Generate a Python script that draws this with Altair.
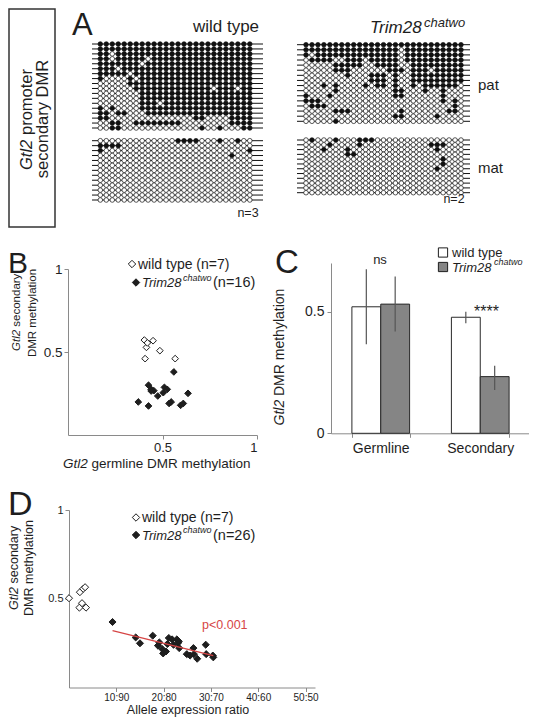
import altair as alt
import pandas as pd

W, H = 521, 709
FONT = "Liberation Sans"
INK = "#1e1e1e"
AXC = "#8a8a8a"
RED = "#d64545"
GRAY = "#858585"

# ---------------- Panel A: methylation states (1 = methylated, 0 = unmethylated)
wt_pat = [
    "11111 11111 11111 11111 11111 1",
    "11111 11111 11111 11111 11111 1",
    "11011 11111 11111 11111 11111 1",
    "11011 11101 11111 11111 11111 1",
    "11111 11011 11111 11111 11111 1",
    "11101 11111 11111 11111 11111 1",
    "11111 01111 11111 11111 11111 1",
    "10000 10111 11111 11111 11111 1",
    "00000 11111 11111 11111 11111 1",
    "00000 01111 11111 11110 11101 1",
    "00000 00111 11111 11111 11111 1",
    "00000 00111 11111 11111 11111 1",
    "00000 00111 01111 11111 11111 1",
    "10100 00111 11111 11111 11111 1",
    "11011 00011 11111 11111 11111 1",
    "11000 00000 00000 01100 00111 1",
    "00110 01111 11110 00000 00111 1",
    "00110 00000 00000 00100 10001 1",
]
wt_mat = [
    "00000 00000 00011 11000 10010 0",
    "11110 00000 00000 00000 00000 0",
    "10000 00000 00000 00000 00000 1",
    "00000 00000 00000 00000 00100 0",
    "00000 00000 00000 00000 00000 0",
    "00000 00000 00000 00000 00000 0",
    "00000 00000 00000 00000 00000 0",
    "00000 00000 00000 00000 00000 0",
    "00000 00000 00000 00000 00000 0",
    "00000 00000 00000 00000 00000 0",
    "00000 00000 00000 00000 00000 0",
    "00000 00000 00000 00000 00000 0",
    "00000 00000 00000 00000 00000 0",
]
tr_pat = [
    "11111 11111 11111 11111 11111 11",
    "11111 11111 11111 10111 11111 11",
    "10111 11111 11111 10111 11111 11",
    "01111 00111 01111 10111 11111 11",
    "00000 11111 00111 10011 11111 11",
    "00000 11100 00001 11011 10111 11",
    "00000 00100 01110 10011 11111 11",
    "00000 00000 01110 10011 11111 11",
    "00010 10000 10110 10010 11111 10",
    "00000 10000 00000 11000 10010 00",
    "10001 00000 00000 11000 00010 00",
    "11100 00000 00000 00000 00010 10",
    "01110 00000 00000 00000 00000 10",
    "00000 11100 00000 01000 00001 10",
    "00000 00000 00000 11000 00100 00",
    "00000 10000 00000 00000 00000 00",
]
tr_mat = [
    "01000 10001 11000 00000 00000 00",
    "00001 00001 00000 00000 01110 00",
    "00010 00100 00000 00000 00100 00",
    "00000 00110 00000 00000 00000 00",
    "00000 00000 00000 00000 00010 00",
    "00000 00000 00000 00000 00010 00",
    "00000 00000 00000 00000 00100 00",
    "00000 00000 00000 00000 00000 00",
    "00000 00000 00000 00000 00000 00",
    "00000 00000 00000 00000 00000 00",
    "00000 00000 00000 00000 00000 00",
    "00000 00000 00000 00000 00000 00",
]

# ---------------- Panel B
b_wt_x = [0.404, 0.45, 0.415, 0.486, 0.408, 0.567, 0.42]
b_wt_y = [0.572, 0.568, 0.528, 0.508, 0.46, 0.46, 0.555]
b_tr_x = [0.56, 0.426, 0.44, 0.454, 0.475, 0.51, 0.525, 0.504, 0.372, 0.426,
          0.546, 0.535, 0.596, 0.61, 0.635, 0.44]
b_tr_y = [0.38, 0.30, 0.275, 0.267, 0.235, 0.287, 0.275, 0.255, 0.199, 0.175,
          0.199, 0.19, 0.179, 0.19, 0.251, 0.265]

# ---------------- Panel C
c_cat = ["Germline", "Germline", "Secondary", "Secondary"]
c_ser = ["wild type", "Trim28", "wild type", "Trim28"]
c_mean = [0.52, 0.531, 0.477, 0.233]
c_lo = [0.366, 0.418, 0.452, 0.178]
c_hi = [0.674, 0.644, 0.50, 0.278]

# ---------------- Panel D
d_wt_x = [0.0, 2.2, 3.6, 2.3, 3.0, 3.4, 2.75]
d_wt_y = [0.503, 0.45, 0.45, 0.537, 0.556, 0.565, 0.475]
d_tr_x = [9.2, 14.1, 15.0, 17.7, 18.8, 19.1, 19.7, 19.9, 20.5, 20.8, 21.1, 21.8, 22.1,
          22.8, 23.1, 23.2, 23.3, 24.9, 25.6, 26.3, 26.4, 27.1, 28.9, 29.0, 30.4, 30.5]
d_tr_y = [0.369, 0.282, 0.249, 0.292, 0.236, 0.254, 0.217, 0.192, 0.203, 0.245, 0.279,
          0.271, 0.241, 0.271, 0.252, 0.26, 0.222, 0.188, 0.18, 0.222, 0.188, 0.162,
          0.241, 0.188, 0.18, 0.17]
d_fit_x = [9.2, 30.5]
d_fit_y = [0.32, 0.179]
d_ticks = [10, 20, 30, 40, 50]

ONE = pd.DataFrame({"k": [0]})


def txt(s, x, y, size, align="left", baseline="middle", angle=None, italic=False, color=INK):
    kw = dict(text=s, font=FONT, fontSize=size, align=align, baseline=baseline, color=color)
    if angle is not None:
        kw["angle"] = angle
    if italic:
        kw["fontStyle"] = "italic"
    return alt.Chart(ONE).mark_text(**kw).encode(x=alt.value(x), y=alt.value(y))


def glyph(x, y, shape, fill, size):
    return alt.Chart(ONE).mark_point(shape=shape, filled=True, fill=fill, stroke=INK,
                                     strokeWidth=1, size=size, opacity=1).encode(
        x=alt.value(x), y=alt.value(y))


def block(rows, xr, yr, line_x):
    clean = [r.replace(" ", "") for r in rows]
    recs = [{"r": i, "c": j, "m": "M" if ch == "1" else "U"}
            for i, row in enumerate(clean) for j, ch in enumerate(row)]
    df = pd.DataFrame(recs)
    nr, nc = len(clean), len(clean[0])
    xs = alt.Scale(domain=[0, nc - 1], range=xr, nice=False, zero=False)
    ys = alt.Scale(domain=[0, nr - 1], range=yr, nice=False, zero=False)
    lines = alt.Chart(pd.DataFrame({"r": list(range(nr))})).mark_rule(
        color="#111", strokeWidth=1).encode(
        y=alt.Y("r:Q", scale=ys, axis=None),
        x=alt.value(line_x[0]), x2=alt.value(line_x[1]))
    dots = alt.Chart(df).mark_point(shape="circle", filled=True, size=21, stroke="#111",
                                    strokeWidth=0.7, opacity=1).encode(
        x=alt.X("c:Q", scale=xs, axis=None),
        y=alt.Y("r:Q", scale=ys, axis=None),
        fill=alt.Fill("m:N", scale=alt.Scale(domain=["U", "M"], range=["white", "#111"]),
                      legend=None))
    return [lines, dots]


def axis(orient, offset, values=None, size=13, fmt=None, expr=None, **extra):
    kw = dict(orient=orient, offset=offset, title=None, grid=False, domainColor=AXC,
              tickColor=AXC, tickSize=4, domainWidth=1, labelFont=FONT, labelFontSize=size,
              labelColor=INK, labelPadding=2)
    if values is not None:
        kw["values"] = values
    if fmt is not None:
        kw["format"] = fmt
    if expr is not None:
        kw["labelExpr"] = expr
    kw.update(extra)
    return alt.Axis(**kw)


def scatter(xs, ys, groups, xscale, yscale, size, xaxis, yaxis):
    df = pd.DataFrame({"x": xs, "y": ys, "g": groups})
    return alt.Chart(df).mark_point(shape="diamond", filled=True, size=size, stroke=INK,
                                    strokeWidth=1, opacity=1).encode(
        x=alt.X("x:Q", scale=xscale, axis=xaxis),
        y=alt.Y("y:Q", scale=yscale, axis=yaxis),
        fill=alt.Fill("g:N", scale=alt.Scale(domain=["wild type", "Trim28"],
                                              range=["white", INK]), legend=None))


layers = []

# ---------- label box
layers.append(alt.Chart(ONE).mark_rect(filled=False, stroke="#333", strokeWidth=1.5).encode(
    x=alt.value(1), x2=alt.value(47), y=alt.value(1), y2=alt.value(219)))
layers.append(txt("Gtl2", 19, 162, 16.5, angle=270, italic=True))
layers.append(txt("promoter", 19, 127, 16.5, angle=270))
layers.append(txt("secondary DMR", 35, 111, 16.5, align="center", angle=270))

# ---------- panel A
layers.append(txt("A", 64, 27, 31, baseline="alphabetic"))
layers.append(txt("wild type", 218, 24, 17, align="center", baseline="alphabetic"))
layers.append(txt("Trim28", 362, 25, 17, baseline="alphabetic", italic=True))
layers.append(txt("chatwo", 416, 18.5, 13, baseline="alphabetic", italic=True))
layers += block(wt_pat, [92.3, 241.8], [36, 120], [84, 255])
layers += block(wt_mat, [92.3, 241.8], [132.7, 192], [84, 255])
layers += block(tr_pat, [298, 453], [36.7, 113.3], [289, 462])
layers += block(tr_mat, [298, 453], [132, 184.7], [289, 462])
layers.append(txt("pat", 470, 77, 15))
layers.append(txt("mat", 470, 160, 15))
layers.append(txt("n=3", 240, 205, 12.5, align="center"))
layers.append(txt("n=2", 446, 191, 12.5, align="center"))

# ---------- panel B
bx = alt.Scale(domain=[0, 1], range=[60, 249], nice=False, zero=False)
by = alt.Scale(domain=[0, 1], range=[427, 261], nice=False, zero=False)
layers.append(scatter(b_wt_x + b_tr_x, b_wt_y + b_tr_y,
                      ["wild type"] * len(b_wt_x) + ["Trim28"] * len(b_tr_x),
                      bx, by, 45,
                      axis("bottom", 427 - H, [0.5, 1], 13, fmt="~g"),
                      axis("left", -60, [0.5, 1], 13.5, fmt="~g")))
layers.append(txt("B", 0, 265, 30, baseline="alphabetic"))
layers.append(glyph(124, 256, "diamond", "white", 55))
layers.append(txt("wild type (n=7)", 130, 256.5, 14))
layers.append(glyph(128, 274.5, "diamond", INK, 55))
layers.append(txt("Trim28", 134, 275, 13, italic=True))
layers.append(txt("chatwo", 175, 270, 9, italic=True))
layers.append(txt("(n=16)", 205, 275, 14.5))
layers.append(txt("Gtl2", 9, 343, 11.5, angle=270, italic=True))
layers.append(txt("secondary", 9, 318.7, 11.5, angle=270))
layers.append(txt("DMR methylation", 25, 305, 11.5, align="center", angle=270))
layers.append(txt("Gtl2", 55, 456, 13.5, italic=True))
layers.append(txt("germline DMR methylation", 83.5, 456, 13.5))

# ---------- panel C
cdf = pd.DataFrame({"cat": c_cat, "ser": c_ser, "mean": c_mean, "lo": c_lo, "hi": c_hi})


def cx_scale():
    return alt.Scale(domain=["Germline", "Secondary"], range=[323, 522],
                     paddingInner=0.42, paddingOuter=0.21)


def cy_scale():
    return alt.Scale(domain=[0, 0.7], range=[425.3, 255], nice=False, zero=False)


def c_off():
    return alt.XOffset("ser:N", scale=alt.Scale(domain=["wild type", "Trim28"],
                                                paddingInner=0, paddingOuter=0))


c_bars = alt.Chart(cdf).mark_bar(stroke="#2a2a2a", strokeWidth=1).encode(
    x=alt.X("cat:N", scale=cx_scale(),
            axis=axis("bottom", 425.3 - H, None, 14, labelAngle=0, tickBand="extent",
                      labelPadding=4)),
    xOffset=c_off(),
    y=alt.Y("mean:Q", scale=cy_scale(), axis=axis("left", -323, [0, 0.5], 14, fmt="~g",
                                                  labelPadding=3)),
    fill=alt.Fill("ser:N", scale=alt.Scale(domain=["wild type", "Trim28"],
                                           range=["white", GRAY]), legend=None))
c_err = alt.Chart(cdf).mark_rule(color="#555", strokeWidth=1.2).encode(
    x=alt.X("cat:N", scale=cx_scale(), axis=None),
    xOffset=c_off(),
    y=alt.Y("lo:Q", scale=cy_scale(), axis=None),
    y2="hi:Q")
layers += [c_bars, c_err]
layers.append(txt("C", 267, 265, 33, baseline="alphabetic"))
layers.append(glyph(435, 244.5, "square", "white", 85))
layers.append(txt("wild type", 444, 245, 13))
layers.append(glyph(435, 259, "square", GRAY, 85))
layers.append(txt("Trim28", 444, 260, 13, italic=True))
layers.append(txt("chatwo", 486, 254, 9, italic=True))
layers.append(txt("ns", 372, 252, 13, align="center"))
layers.append(txt("****", 478.5, 309, 16, align="center", baseline="alphabetic"))
layers.append(txt("Gtl2", 272, 417.5, 14, angle=270, italic=True))
layers.append(txt("DMR methylation", 272, 388, 14, angle=270))

# ---------- panel D
dx = alt.Scale(domain=[0, 52], range=[61, 307], nice=False, zero=False)
dy = alt.Scale(domain=[0, 1], range=[679.5, 502], nice=False, zero=False)
d_fit = alt.Chart(pd.DataFrame({"x": d_fit_x, "y": d_fit_y})).mark_line(
    color=RED, strokeWidth=1.3).encode(
    x=alt.X("x:Q", scale=dx, axis=None), y=alt.Y("y:Q", scale=dy, axis=None))
d_pts = scatter(d_wt_x + d_tr_x, d_wt_y + d_tr_y,
                ["wild type"] * len(d_wt_x) + ["Trim28"] * len(d_tr_x),
                dx, dy, 50,
                axis("bottom", 679.5 - H, d_ticks, 10, labelPadding=1,
                     expr="datum.value + ':' + (100 - datum.value)"),
                axis("left", -61, [0.5, 1], 11, fmt="~g"))
layers += [d_pts, d_fit]
layers.append(txt("D", 0, 507, 34, baseline="alphabetic"))
layers.append(glyph(128, 509.5, "diamond", "white", 55))
layers.append(txt("wild type (n=7)", 134, 510, 14))
layers.append(glyph(128, 527, "diamond", INK, 55))
layers.append(txt("Trim28", 134, 527.5, 13, italic=True))
layers.append(txt("chatwo", 175, 522, 9, italic=True))
layers.append(txt("(n=26)", 205, 527.5, 14.5))
layers.append(txt("Gtl2", 6, 602, 12.5, angle=270, italic=True))
layers.append(txt("secondary", 6, 575.5, 12.5, angle=270))
layers.append(txt("DMR methylation", 21, 560, 12.5, align="center", angle=270))
layers.append(txt("Allele expression ratio", 180, 701.5, 12.5, align="center"))
layers.append(txt("p<0.001", 194, 617, 12.5, color=RED))

chart = alt.layer(*layers).resolve_scale(
    x="independent", y="independent", fill="independent"
).resolve_axis(
    x="independent", y="independent"
).properties(
    width=W, height=H, padding=0, autosize=alt.AutoSizeParams(type="none")
).configure_view(strokeWidth=0)

chart.save("out.html", embed_options={"renderer": "svg", "actions": False})
